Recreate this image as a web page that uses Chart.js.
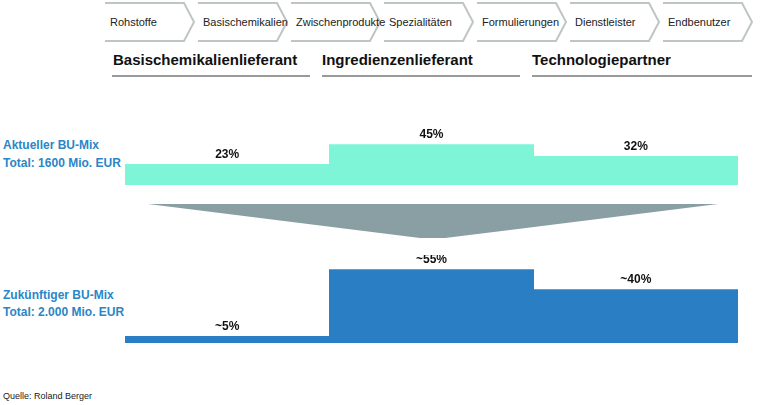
<!DOCTYPE html>
<html><head><meta charset="utf-8">
<script src="https://cdn.jsdelivr.net/npm/chart.js@4"></script>
<style>
body{margin:0;width:760px;height:405px;background:#fff;position:relative;overflow:hidden;font-family:"Liberation Sans Narrow","Liberation Sans",Arial,sans-serif;}
.a{position:absolute;white-space:nowrap}
.blue{color:#2a86c6;font-weight:bold;font-size:12px}
.grp{font-weight:bold;font-size:15px;color:#111}
.ul{position:absolute;height:2px;background:#9a9a9a;top:75px}
</style></head><body>
<svg id="chev" class="a" style="left:0;top:0" width="760" height="50"></svg>
<div class="a grp" style="left:113px;top:51px">Basischemikalienlieferant</div>
<div class="a grp" style="left:322px;top:51px">Ingredienzenlieferant</div>
<div class="a grp" style="left:532px;top:51px">Technologiepartner</div>
<div class="ul" style="left:112px;width:198px"></div>
<div class="ul" style="left:322px;width:198px"></div>
<div class="ul" style="left:532px;width:220px"></div>
<div class="a blue" style="left:3px;top:138px">Aktueller BU-Mix</div>
<div class="a blue" style="left:3px;top:156px">Total: 1600 Mio. EUR</div>
<div class="a blue" style="left:3px;top:288px">Zukünftiger BU-Mix</div>
<div class="a blue" style="left:3px;top:305px">Total: 2.000 Mio. EUR</div>
<div class="a" style="left:3px;top:391px;font-size:9px;color:#222">Quelle: Roland Berger</div>
<svg class="a" style="left:0;top:0" width="760" height="405"><polygon points="148,204 718,204 445,238 420,238" fill="#8a9fa3"/></svg>
<div class="a" style="left:125px;top:125px;width:613px;height:60px"><canvas id="c1"></canvas></div>
<div class="a" style="left:125px;top:255px;width:613px;height:88px"><canvas id="c2"></canvas></div>
<script>
const steps=["Rohstoffe","Basischemikalien","Zwischenprodukte","Spezialitäten","Formulierungen","Dienstleister","Endbenutzer"];
const segments=["Basischemikalienlieferant","Ingredienzenlieferant","Technologiepartner"];
const currentMix=[23,45,32];
const currentLabels=["23%","45%","32%"];
const futureMix=[5,55,40];
const futureLabels=["~5%","~55%","~40%"];

// chevrons
(function(){
  const svg=document.getElementById('chev');let s='';
  const x0=105,w=93,top=3,bot=41,tip=10;
  steps.forEach((t,i)=>{const x=x0+i*w;const m=(top+bot)/2;
    s+=`<path d="M${x},${top} L${x+w-tip-4},${top} L${x+w-4},${m} L${x+w-tip-4},${bot} L${x},${bot}" fill="none" stroke="#bfc4c6" stroke-width="2"/>`;
    s+=`<text x="${x+5}" y="${m+4}" font-size="11" font-family="Liberation Sans Narrow,Liberation Sans,Arial" fill="#222">${t}</text>`;});
  svg.innerHTML=s;
})();

const lbl={id:'lbl',afterDatasetsDraw(ch){const ctx=ch.ctx;const labs=ch.options.plugins.lbl.labels;
  ch.getDatasetMeta(0).data.forEach((b,i)=>{ctx.save();ctx.font='bold 12px "Liberation Sans", Arial';ctx.fillStyle='#111';ctx.textAlign='center';ctx.textBaseline='bottom';ctx.fillText(labs[i],b.x,b.y-4);ctx.restore();});}};
function mk(id,data,labels,color,max){
  new Chart(document.getElementById(id),{type:'bar',data:{labels:segments,datasets:[{data:data,backgroundColor:color,borderWidth:0,categoryPercentage:1,barPercentage:1}]},
  options:{responsive:true,maintainAspectRatio:false,animation:false,layout:{padding:0},
   plugins:{legend:{display:false},tooltip:{enabled:false},lbl:{labels:labels}},
   scales:{x:{display:false},y:{display:false,min:0,max:max}}},plugins:[lbl]});
}
mk('c1',currentMix,currentLabels,'#7ff5d8',67);
mk('c2',futureMix,futureLabels,'#2a7fc4',66);
</script>
</body></html>
